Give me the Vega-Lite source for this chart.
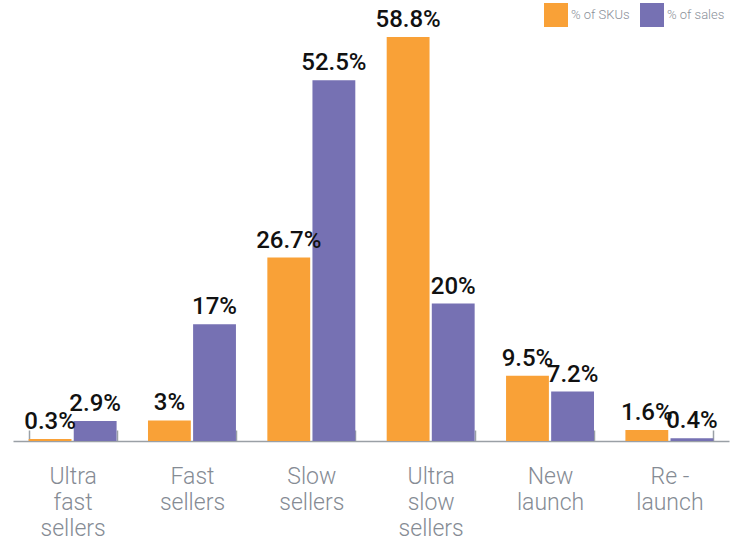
{
  "$schema": "https://vega.github.io/schema/vega-lite/v6.json",
  "width": 716,
  "height": 404,
  "autosize": {"type": "none"},
  "padding": {"left": 13, "top": 37, "right": 17, "bottom": 105},
  "background": "white",
  "config": {
    "view": {"stroke": null},
    "font": "Roboto"
  },
  "data": {
    "values": [
      {"category": "Ultra fast sellers", "series": "% of SKUs", "value": 0.3, "label": "0.3%"},
      {"category": "Ultra fast sellers", "series": "% of sales", "value": 2.9, "label": "2.9%"},
      {"category": "Fast sellers", "series": "% of SKUs", "value": 3, "label": "3%"},
      {"category": "Fast sellers", "series": "% of sales", "value": 17, "label": "17%"},
      {"category": "Slow sellers", "series": "% of SKUs", "value": 26.7, "label": "26.7%"},
      {"category": "Slow sellers", "series": "% of sales", "value": 52.5, "label": "52.5%"},
      {"category": "Ultra slow sellers", "series": "% of SKUs", "value": 58.8, "label": "58.8%"},
      {"category": "Ultra slow sellers", "series": "% of sales", "value": 20, "label": "20%"},
      {"category": "New launch", "series": "% of SKUs", "value": 9.5, "label": "9.5%"},
      {"category": "New launch", "series": "% of sales", "value": 7.2, "label": "7.2%"},
      {"category": "Re - launch", "series": "% of SKUs", "value": 1.6, "label": "1.6%"},
      {"category": "Re - launch", "series": "% of sales", "value": 0.4, "label": "0.4%"}
    ]
  },
  "encoding": {
    "x": {
      "field": "category",
      "type": "nominal",
      "sort": null,
      "title": null,
      "scale": {"paddingInner": 0.263, "paddingOuter": 0.131},
      "axis": {
        "labelAngle": 0,
        "labelExpr": "datum.label == 'Re - launch' ? ['Re -', 'launch'] : split(datum.label, ' ')",
        "labelFontSize": 23,
        "labelFontWeight": 300,
        "labelColor": "#858b94",
        "labelLineHeight": 26,
        "labelPadding": 35,
        "labelBaseline": "top",
        "tickBand": "extent",
        "tickSize": -11,
        "tickColor": "#9aa0a6",
        "domainColor": "#9aa0a6",
        "tickWidth": 1.5,
        "domainWidth": 1.5
      }
    },
    "xOffset": {
      "field": "series",
      "type": "nominal",
      "sort": ["% of SKUs", "% of sales"],
      "scale": {"paddingInner": 0.05}
    },
    "y": {
      "field": "value",
      "type": "quantitative",
      "scale": {"domain": [0, 58.8], "nice": false},
      "axis": null
    }
  },
  "layer": [
    {
      "mark": {"type": "bar"},
      "encoding": {
        "color": {
          "field": "series",
          "type": "nominal",
          "sort": ["% of SKUs", "% of sales"],
          "scale": {"domain": ["% of SKUs", "% of sales"], "range": ["#f9a137", "#7671b3"]},
          "legend": {
            "title": null,
            "orient": "none",
            "legendX": 531,
            "legendY": -34,
            "direction": "horizontal",
            "symbolType": "square",
            "symbolSize": 576,
            "symbolStrokeWidth": 0,
            "labelFont": "Roboto",
            "labelFontSize": 13,
            "labelFontWeight": 300,
            "labelColor": "#8a9099",
            "labelOffset": 3,
            "columnPadding": 10
          }
        }
      }
    },
    {
      "mark": {"type": "text", "baseline": "alphabetic", "dy": -10, "fontSize": 24, "fontWeight": 500, "color": "#111111"},
      "encoding": {
        "text": {"field": "label", "type": "nominal"}
      }
    }
  ]
}
